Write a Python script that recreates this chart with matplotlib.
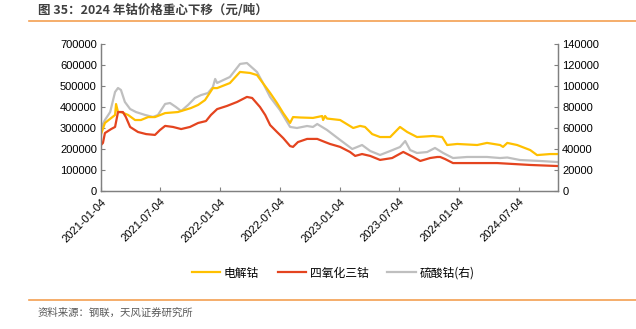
import matplotlib
matplotlib.use("Agg")
import matplotlib.pyplot as plt
import matplotlib.dates as mdates
from matplotlib.lines import Line2D
import pandas as pd

plt.rcParams['font.family'] = ['Liberation Sans', 'Noto Sans CJK SC', 'DejaVu Sans']

# 电解钴 (left axis, 元/吨)
co_dates = ["2021-01-04", "2021-01-16", "2021-02-16", "2021-02-19", "2021-02-25", "2021-03-06",
            "2021-03-28", "2021-04-18", "2021-05-06", "2021-05-28", "2021-06-18", "2021-07-19",
            "2021-08-27", "2021-10-06", "2021-10-28", "2021-11-18", "2021-12-12", "2021-12-25",
            "2022-02-02", "2022-03-05", "2022-04-05", "2022-04-26", "2022-06-05", "2022-06-26",
            "2022-07-15", "2022-08-05", "2022-08-14", "2022-09-05", "2022-10-14", "2022-11-11",
            "2022-11-14", "2022-11-20", "2022-11-26", "2023-01-05", "2023-02-14", "2023-03-07",
            "2023-03-22", "2023-04-13", "2023-05-07", "2023-06-07", "2023-07-07", "2023-07-29",
            "2023-08-28", "2023-10-16", "2023-11-13", "2023-11-28", "2023-12-29", "2024-02-28",
            "2024-03-29", "2024-05-08", "2024-05-17", "2024-05-30", "2024-06-29", "2024-08-08",
            "2024-08-29", "2024-10-08", "2024-10-29"]
co_vals = [270000, 324000, 362000, 414000, 376000, 376000,
           362000, 338000, 338000, 352000, 352000, 371000,
           376000, 395000, 410000, 433000, 490000, 490000,
           514000, 567000, 562000, 552000, 467000, 419000,
           371000, 324000, 352000, 350000, 348000, 357000,
           338000, 357000, 345000, 338000, 300000, 310000,
           305000, 271000, 257000, 257000, 305000, 281000,
           257000, 262000, 257000, 219000, 224000, 219000,
           229000, 219000, 210000, 229000, 219000, 195000,
           171000, 176000, 176000]

# 四氧化三钴 (left axis, 元/吨)
tc_dates = ["2021-01-04", "2021-01-10", "2021-01-16", "2021-02-04", "2021-02-16", "2021-02-25",
            "2021-03-12", "2021-03-21", "2021-04-03", "2021-04-27", "2021-05-22", "2021-06-18",
            "2021-07-03", "2021-07-19", "2021-08-12", "2021-09-06", "2021-10-03", "2021-10-28",
            "2021-11-21", "2021-12-06", "2021-12-25", "2022-01-24", "2022-02-24", "2022-03-26",
            "2022-04-11", "2022-05-05", "2022-05-21", "2022-06-05", "2022-06-26", "2022-07-15",
            "2022-08-05", "2022-08-14", "2022-08-29", "2022-09-26", "2022-10-27", "2022-11-20",
            "2022-12-05", "2023-01-05", "2023-02-04", "2023-02-20", "2023-03-13", "2023-04-07",
            "2023-05-07", "2023-06-13", "2023-07-17", "2023-08-16", "2023-09-07", "2023-10-07",
            "2023-10-29", "2023-11-07", "2023-11-22", "2023-12-16", "2024-01-16", "2024-04-29",
            "2024-08-08", "2024-10-29"]
tc_vals = [219000, 229000, 276000, 295000, 305000, 376000,
           376000, 352000, 305000, 281000, 271000, 267000,
           290000, 310000, 305000, 295000, 305000, 324000,
           333000, 362000, 390000, 405000, 424000, 448000,
           443000, 400000, 362000, 314000, 281000, 252000,
           214000, 210000, 233000, 248000, 248000, 233000,
           224000, 210000, 186000, 167000, 176000, 167000,
           148000, 157000, 186000, 162000, 143000, 157000,
           162000, 162000, 152000, 133000, 133000, 133000,
           124000, 119000]

# 硫酸钴 (right axis, 元/吨)
cs_dates = ["2021-01-04", "2021-01-16", "2021-02-01", "2021-02-16", "2021-02-25", "2021-03-06",
            "2021-03-18", "2021-04-03", "2021-04-21", "2021-05-19", "2021-06-12", "2021-06-27",
            "2021-07-19", "2021-08-03", "2021-08-21", "2021-09-06", "2021-09-27", "2021-10-18",
            "2021-11-06", "2021-11-27", "2021-12-12", "2021-12-19", "2021-12-25", "2022-02-02",
            "2022-03-05", "2022-03-26", "2022-04-26", "2022-05-14", "2022-06-05", "2022-07-05",
            "2022-08-05", "2022-08-26", "2022-09-26", "2022-10-14", "2022-10-27", "2022-11-26",
            "2023-01-05", "2023-02-11", "2023-03-13", "2023-04-07", "2023-05-07", "2023-06-07",
            "2023-07-07", "2023-07-23", "2023-08-07", "2023-08-28", "2023-09-28", "2023-10-22",
            "2023-11-16", "2023-12-16", "2024-01-28", "2024-03-29", "2024-05-08", "2024-05-30",
            "2024-07-08", "2024-09-07", "2024-10-29"]
cs_vals = [60000, 67600, 75200, 94300, 98100, 96200,
           84800, 78100, 75200, 72400, 70500, 72400,
           82900, 83800, 80000, 76200, 81900, 88600,
           91400, 93300, 99000, 106700, 102900, 108600,
           121000, 121900, 113300, 102900, 89500, 77100,
           61000, 60000, 61900, 61000, 63800, 58100,
           48600, 40000, 43800, 38100, 34300, 38100,
           41900, 47600, 39000, 36200, 37100, 41000,
           36200, 31400, 32400, 32400, 31400, 31900,
           29500, 28600, 27600]

left_ticks = [0, 100000, 200000, 300000, 400000, 500000, 600000, 700000]
right_ticks = [0, 20000, 40000, 60000, 80000, 100000, 120000, 140000]
x_ticks = ["2021-01-04", "2021-07-04", "2022-01-04", "2022-07-04",
           "2023-01-04", "2023-07-04", "2024-01-04", "2024-07-04"]

YELLOW = "#FFC000"
RED = "#E4441F"
GREY = "#BFBFBF"
ORANGE = "#F4A052"
SPINE = "#808080"

fig = plt.figure(figsize=(6.36, 3.29), dpi=100)
ax = fig.add_axes([101/636, 1-191/329, (558-101)/636, (191-44)/329])
ax2 = ax.twinx()

cn = ['Noto Sans CJK SC', 'DejaVu Sans']

l1, = ax.plot(pd.to_datetime(co_dates), co_vals, color=YELLOW, lw=1.6, label="电解钴")
l2, = ax.plot(pd.to_datetime(tc_dates), tc_vals, color=RED, lw=1.6, label="四氧化三钴")
l3, = ax2.plot(pd.to_datetime(cs_dates), cs_vals, color=GREY, lw=1.6, label="硫酸钴(右)")
ax.set_zorder(ax2.get_zorder() + 1)
ax.patch.set_visible(False)

ax.set_xlim(pd.Timestamp("2021-01-04"), pd.Timestamp("2024-11-01"))
ax.set_ylim(0, 700000)
ax2.set_ylim(0, 140000)
ax.set_yticks(left_ticks)
ax.set_yticklabels([str(v) for v in left_ticks])
ax2.set_yticks(right_ticks)
ax2.set_yticklabels([str(v) for v in right_ticks])
ax.set_xticks(pd.to_datetime(x_ticks))
ax.set_xticklabels(x_ticks, rotation=45, ha="right", rotation_mode="anchor")

for a in (ax, ax2):
    a.spines["top"].set_visible(False)
    for s in ("left", "right", "bottom"):
        a.spines[s].set_color(SPINE)
        a.spines[s].set_linewidth(0.9)
    a.tick_params(direction="in", length=3, color=SPINE, labelsize=8, labelcolor="#000000", pad=3)
ax.tick_params(axis="x", pad=4)

leg = fig.legend(handles=[l1, l2, l3], loc="center", bbox_to_anchor=(333/636, 1-273/329),
                 ncol=3, frameon=False, prop={'family': cn, 'size': 8.5},
                 handlelength=2.4, handletextpad=0.3, columnspacing=1.6)

fig.text(38/636, 1-10/329, "图 35：2024 年钴价格重心下移（元/吨）", family=cn, fontsize=9,
         fontweight="bold", color="#404040", va="center", ha="left")
fig.add_artist(Line2D([29/636, 1.0], [1-21/329, 1-21/329], color=ORANGE, lw=1.2))
fig.add_artist(Line2D([29/636, 1.0], [1-300/329, 1-300/329], color=ORANGE, lw=1.2))
fig.text(38/636, 1-313/329, "资料来源：钢联，天风证券研究所", family=cn, fontsize=7.5,
         color="#595959", va="center", ha="left")

fig.savefig("out.png", dpi=100)
